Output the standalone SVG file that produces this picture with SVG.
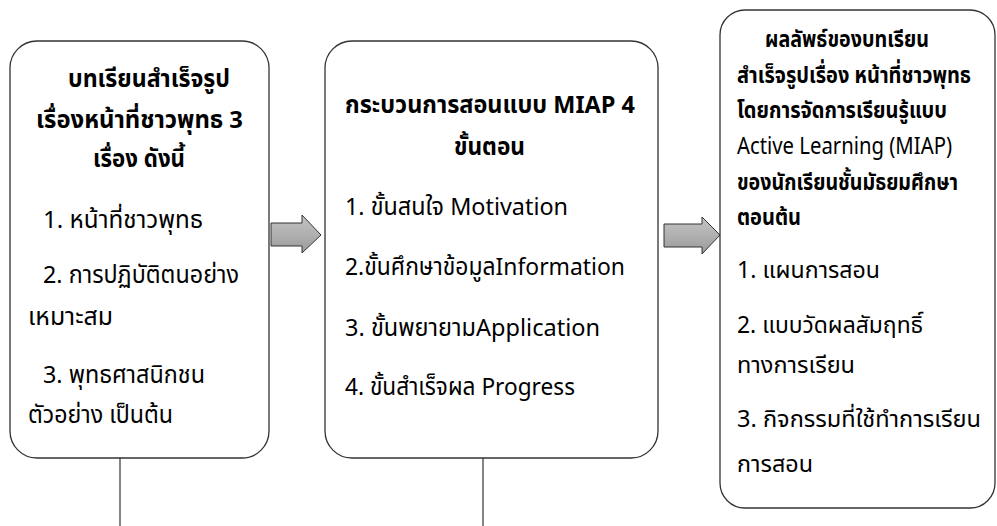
<svg xmlns="http://www.w3.org/2000/svg" width="997" height="526" viewBox="0 0 997 526">
<defs>
<linearGradient id="ag" x1="0" y1="0" x2="0" y2="1">
<stop offset="0" stop-color="#c4c4c4"/>
<stop offset="0.5" stop-color="#b0b0b0"/>
<stop offset="1" stop-color="#9a9a9a"/>
</linearGradient>
</defs>
<style>
.box{fill:#fff;stroke:#333;stroke-width:1.3}
.t{font-family:"Noto Sans Thai","Noto Sans","DejaVu Sans",sans-serif;font-size:24px;fill:#000}
.b{font-weight:bold}
.s{font-size:23px}
.ln{stroke:#333;stroke-width:1.2;fill:none}
.arr{fill:url(#ag);stroke:#333;stroke-width:1}
</style>
<rect width="997" height="526" fill="#fff"/>
<g id="node1">
<rect class="box" x="10" y="41" width="259" height="417" rx="27"/>
<text class="t b" x="68" y="87" textLength="162" lengthAdjust="spacingAndGlyphs">บทเรียนสำเร็จรูป</text>
<text class="t b" x="36" y="128" textLength="207" lengthAdjust="spacingAndGlyphs">เรื่องหน้าที่ชาวพุทธ 3</text>
<text class="t b" x="93" y="167" textLength="92" lengthAdjust="spacingAndGlyphs">เรื่อง ดังนี้</text>
<text class="t" x="43" y="228" textLength="160" lengthAdjust="spacingAndGlyphs">1. หน้าที่ชาวพุทธ</text>
<text class="t" x="43" y="283" textLength="196" lengthAdjust="spacingAndGlyphs">2. การปฏิบัติตนอย่าง</text>
<text class="t" x="28" y="325" textLength="85" lengthAdjust="spacingAndGlyphs">เหมาะสม</text>
<text class="t" x="43" y="383" textLength="162" lengthAdjust="spacingAndGlyphs">3. พุทธศาสนิกชน</text>
<text class="t" x="28" y="423" textLength="145" lengthAdjust="spacingAndGlyphs">ตัวอย่าง เป็นต้น</text>
</g>
<g id="node2">
<rect class="box" x="325" y="41" width="333" height="417" rx="27"/>
<text class="t b" x="345" y="113" textLength="290" lengthAdjust="spacingAndGlyphs">กระบวนการสอนแบบ  MIAP 4</text>
<text class="t b" x="454" y="155" textLength="71" lengthAdjust="spacingAndGlyphs">ขั้นตอน</text>
<text class="t" x="345" y="215" textLength="223" lengthAdjust="spacingAndGlyphs">1. ขั้นสนใจ Motivation</text>
<text class="t" x="345" y="275" textLength="280" lengthAdjust="spacingAndGlyphs">2.ขั้นศึกษาข้อมูลInformation</text>
<text class="t" x="345" y="336" textLength="255" lengthAdjust="spacingAndGlyphs">3. ขั้นพยายามApplication</text>
<text class="t" x="345" y="395" textLength="230" lengthAdjust="spacingAndGlyphs">4. ขั้นสำเร็จผล Progress</text>
</g>
<g id="node3">
<rect class="box" x="720" y="10" width="275" height="498" rx="25"/>
<text class="t s b" x="765" y="47" textLength="164" lengthAdjust="spacingAndGlyphs">ผลลัพธ์ของบทเรียน</text>
<text class="t s b" x="737" y="83" textLength="234" lengthAdjust="spacingAndGlyphs">สำเร็จรูปเรื่อง หน้าที่ชาวพุทธ</text>
<text class="t s b" x="737" y="118" textLength="210" lengthAdjust="spacingAndGlyphs">โดยการจัดการเรียนรู้แบบ</text>
<text class="t s" x="737" y="154" textLength="215" lengthAdjust="spacingAndGlyphs">Active Learning (MIAP)</text>
<text class="t s b" x="737" y="190" textLength="221" lengthAdjust="spacingAndGlyphs">ของนักเรียนชั้นมัธยมศึกษา</text>
<text class="t s b" x="737" y="225" textLength="64" lengthAdjust="spacingAndGlyphs">ตอนต้น</text>
<text class="t s" x="737" y="278" textLength="143" lengthAdjust="spacingAndGlyphs">1. แผนการสอน</text>
<text class="t s" x="737" y="333" textLength="186" lengthAdjust="spacingAndGlyphs">2. แบบวัดผลสัมฤทธิ์</text>
<text class="t s" x="737" y="373" textLength="118" lengthAdjust="spacingAndGlyphs">ทางการเรียน</text>
<text class="t s" x="737" y="427" textLength="244" lengthAdjust="spacingAndGlyphs">3. กิจกรรมที่ใช้ทำการเรียน</text>
<text class="t s" x="737" y="472" textLength="76" lengthAdjust="spacingAndGlyphs">การสอน</text>
</g>
<g id="connectors">
<path class="arr" d="M271,223 H302 V215 L321,235 L302,253 V246 H271 Z"/>
<path class="arr" d="M664,224 H702 V217 L720,235 L702,254 V247 H664 Z"/>
<line class="ln" x1="120" y1="458" x2="120" y2="526"/>
<line class="ln" x1="483" y1="458" x2="483" y2="526"/>
</g>
</svg>
